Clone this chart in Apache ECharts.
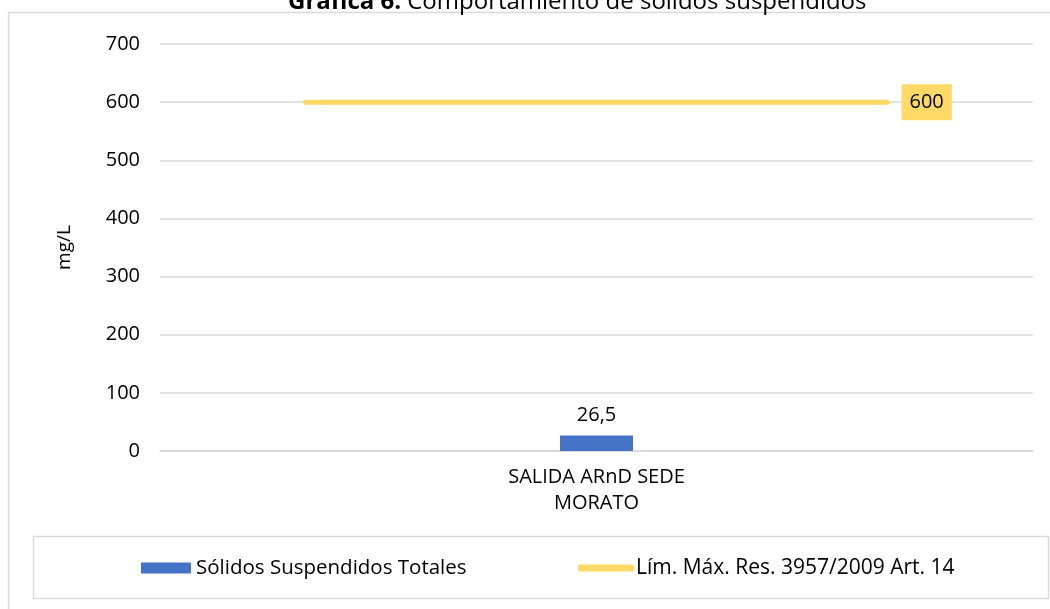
<!DOCTYPE html>
<html>
<head>
<meta charset="utf-8">
<script src="https://cdn.jsdelivr.net/npm/echarts@6/dist/echarts.min.js"></script>
<style>
  html, body { margin: 0; padding: 0; background: #fff; }
  #grafica { width: 1050px; height: 609px; }
</style>
</head>
<body>
<div id="grafica"></div>
<script>
// datos de la gráfica
var categorias = ['SALIDA ARnD SEDE\nMORATO'];
var solidos = [26.5];
var limite = [[1, 600], [5, 600]];
var ticksY = [0, 100, 200, 300, 400, 500, 600, 700];

var fuente = '"Open Sans", "Liberation Sans", sans-serif';
var chart = echarts.init(document.getElementById('grafica'));

var option = {
  backgroundColor: '#fff',
  textStyle: { fontFamily: fuente },
  title: {
    left: 283,
    top: -15,
    text: '{b|Gráfica 6.} Comportamiento de sólidos suspendidos',
    textStyle: {
      fontFamily: fuente, fontSize: 24, fontWeight: 'normal', color: '#000', lineHeight: 24,
      rich: { b: { fontFamily: fuente, fontSize: 24, fontWeight: 'bold', color: '#000', lineHeight: 24 } }
    }
  },
  graphic: [
    { type: 'rect', shape: { x: 8.5, y: 12.5, width: 1060, height: 620 }, style: { fill: 'none', stroke: '#d9d9d9', lineWidth: 1.5 }, z: -1 },
    { type: 'rect', shape: { x: 33.5, y: 536.5, width: 1015, height: 62 }, style: { fill: 'none', stroke: '#d9d9d9', lineWidth: 1.5 }, z: -1 }
  ],
  legend: [
    {
      left: 136,
      top: 552,
      itemWidth: 50,
      itemHeight: 11,
      itemGap: 0,
      textStyle: { fontFamily: fuente, fontSize: 20.5, lineHeight: 22, color: '#000', padding: [0, 0, 0, 0] },
      data: [{ name: 'Sólidos Suspendidos Totales', icon: 'rect' }]
    },
    {
      left: 573,
      top: 552,
      itemWidth: 56,
      itemHeight: 7,
      itemGap: 0,
      textStyle: { fontFamily: fuente, fontSize: 21, lineHeight: 22, color: '#000', padding: [0, 0, 0, -3] },
      data: [{ name: 'Lím. Máx. Res. 3957/2009 Art. 14', icon: 'roundRect' }]
    }
  ],
  grid: { left: 160, right: 17, top: 44, bottom: 158 },
  xAxis: [
    {
      type: 'category',
      data: categorias,
      axisLine: { lineStyle: { color: '#d9d9d9', width: 1.5 } },
      axisTick: { show: false },
      axisLabel: { color: '#000', fontSize: 20, lineHeight: 26, margin: 13, fontFamily: fuente }
    },
    { type: 'value', min: 0, max: 6, show: false }
  ],
  yAxis: {
    type: 'value',
    min: 0,
    max: 700,
    interval: 100,
    name: 'mg/L',
    nameLocation: 'middle',
    nameGap: 86,
    nameRotate: 90,
    nameTextStyle: { color: '#000', fontSize: 19, fontFamily: fuente },
    axisLine: { show: false },
    axisTick: { show: false },
    axisLabel: {
      color: '#000', fontSize: 20, margin: 20, fontFamily: fuente,
      formatter: function (v) { return ticksY.indexOf(v) >= 0 ? String(v) : ''; }
    },
    splitLine: { lineStyle: { color: '#d9d9d9', width: 1.5 } }
  },
  series: [
    {
      name: 'Sólidos Suspendidos Totales',
      type: 'bar',
      data: solidos,
      barWidth: 73,
      itemStyle: { color: '#4472C4' },
      label: {
        show: true, position: 'top', distance: 10, color: '#000', fontSize: 20, fontFamily: fuente,
        formatter: function (p) { return String(p.value).replace('.', ','); }
      }
    },
    {
      name: 'Lím. Máx. Res. 3957/2009 Art. 14',
      type: 'line',
      xAxisIndex: 1,
      data: limite,
      symbol: 'none',
      lineStyle: { color: '#FFD966', width: 5, cap: 'round' },
      itemStyle: { color: '#FFD966' },
      endLabel: {
        show: true,
        formatter: function (p) { return String(p.value[1]); },
        backgroundColor: '#FFD966',
        color: '#000',
        fontSize: 20,
        lineHeight: 20,
        fontFamily: fuente,
        padding: [8, 8, 8, 8],
        distance: 14
      }
    }
  ]
};

chart.setOption(option);
</script>
</body>
</html>
